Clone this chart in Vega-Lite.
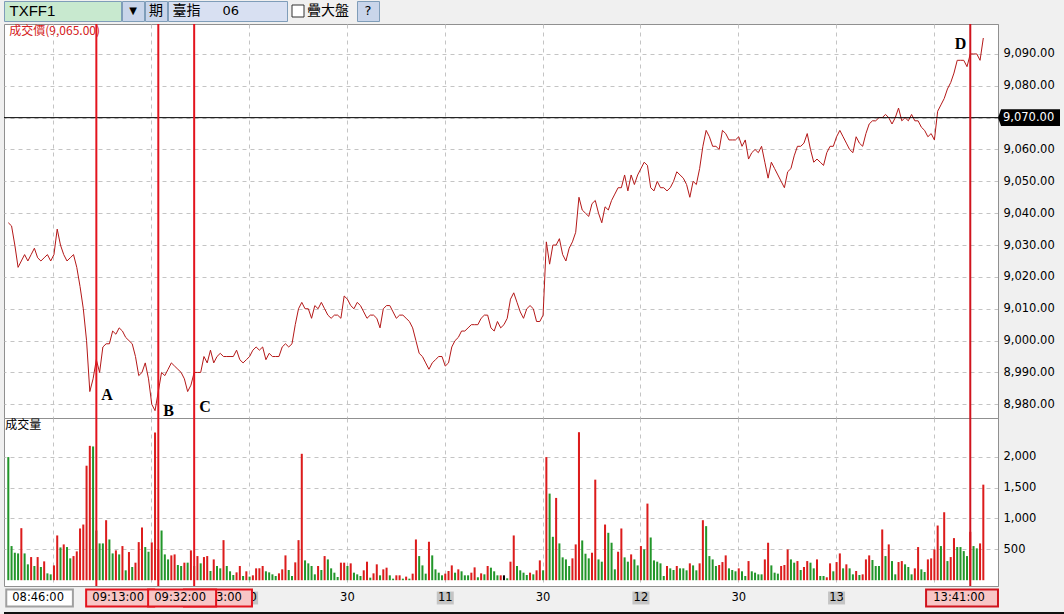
{
"$schema": "https://vega.github.io/schema/vega-lite/v6.json",
"background": "#f0f0f0",
"padding": {"left": 1, "top": 0, "right": 0, "bottom": 0},
"config": {
  "view": {"stroke": null},
  "axis": {"labelFont": "DejaVu Sans", "labelFontSize": 11.5, "labelColor": "#000000", "ticks": false, "gridDash": [4, 4], "gridColor": "#c4c4c4", "domainColor": "#909090", "title": null, "labelOverlap": false}
},
"datasets": {
  "m": [
{"t":"08:46","p":9037,"v":1995,"c":"d"},{"t":"08:47","p":9036,"v":553,"c":"d"},{"t":"08:48","p":9030,"v":445,"c":"d"},{"t":"08:49","p":9023,"v":434,"c":"d"},{"t":"08:50","p":9025,"v":843,"c":"u"},{"t":"08:51","p":9027,"v":434,"c":"d"},{"t":"08:52","p":9025,"v":257,"c":"d"},{"t":"08:53","p":9027,"v":375,"c":"u"},{"t":"08:54","p":9029,"v":230,"c":"d"},{"t":"08:55","p":9026,"v":375,"c":"u"},
{"t":"08:56","p":9025,"v":214,"c":"d"},{"t":"08:57","p":9026,"v":305,"c":"u"},{"t":"08:58","p":9027,"v":111,"c":"d"},{"t":"08:59","p":9025,"v":95,"c":"d"},{"t":"09:00","p":9027,"v":240,"c":"u"},{"t":"09:01","p":9035,"v":725,"c":"u"},{"t":"09:02","p":9030,"v":531,"c":"d"},{"t":"09:03","p":9027,"v":580,"c":"u"},{"t":"09:04","p":9025,"v":537,"c":"d"},{"t":"09:05","p":9026,"v":354,"c":"d"},
{"t":"09:06","p":9027,"v":391,"c":"u"},{"t":"09:07","p":9023,"v":467,"c":"u"},{"t":"09:08","p":9017,"v":838,"c":"u"},{"t":"09:09","p":9010,"v":902,"c":"u"},{"t":"09:10","p":9000,"v":1855,"c":"u"},{"t":"09:11","p":8984,"v":2177,"c":"u"},{"t":"09:12","p":8988,"v":2167,"c":"d"},{"t":"09:13","p":8994,"v":805,"c":"d"},{"t":"09:14","p":8990,"v":596,"c":"d"},{"t":"09:15","p":8998,"v":596,"c":"d"},
{"t":"09:16","p":8999,"v":972,"c":"u"},{"t":"09:17","p":8999,"v":660,"c":"d"},{"t":"09:18","p":9003,"v":434,"c":"d"},{"t":"09:19","p":9002,"v":483,"c":"u"},{"t":"09:20","p":9004,"v":418,"c":"d"},{"t":"09:21","p":9003,"v":553,"c":"u"},{"t":"09:22","p":9001,"v":160,"c":"d"},{"t":"09:23","p":9000,"v":456,"c":"u"},{"t":"09:24","p":8999,"v":214,"c":"d"},{"t":"09:25","p":8995,"v":284,"c":"u"},
{"t":"09:26","p":8989,"v":617,"c":"u"},{"t":"09:27","p":8990,"v":854,"c":"u"},{"t":"09:28","p":8993,"v":537,"c":"d"},{"t":"09:29","p":8988,"v":461,"c":"d"},{"t":"09:30","p":8980,"v":612,"c":"u"},{"t":"09:31","p":8978,"v":2393,"c":"u"},{"t":"09:32","p":8984,"v":500,"c":"u"},{"t":"09:33","p":8990,"v":805,"c":"d"},{"t":"09:34","p":8989,"v":418,"c":"d"},{"t":"09:35","p":8991,"v":337,"c":"d"},
{"t":"09:36","p":8993,"v":402,"c":"u"},{"t":"09:37","p":8992,"v":418,"c":"u"},{"t":"09:38","p":8991,"v":246,"c":"d"},{"t":"09:39","p":8990,"v":230,"c":"d"},{"t":"09:40","p":8988,"v":284,"c":"u"},{"t":"09:41","p":8984,"v":284,"c":"d"},{"t":"09:42","p":8986,"v":483,"c":"u"},{"t":"09:43","p":8990,"v":230,"c":"d"},{"t":"09:44","p":8990,"v":391,"c":"u"},{"t":"09:45","p":8990,"v":273,"c":"d"},
{"t":"09:46","p":8995,"v":375,"c":"u"},{"t":"09:47","p":8993,"v":391,"c":"u"},{"t":"09:48","p":8997,"v":149,"c":"d"},{"t":"09:49","p":8993,"v":337,"c":"u"},{"t":"09:50","p":8995,"v":230,"c":"d"},{"t":"09:51","p":8996,"v":192,"c":"d"},{"t":"09:52","p":8995,"v":649,"c":"u"},{"t":"09:53","p":8995,"v":230,"c":"d"},{"t":"09:54","p":8995,"v":144,"c":"d"},{"t":"09:55","p":8995,"v":84,"c":"d"},
{"t":"09:56","p":8997,"v":127,"c":"u"},{"t":"09:57","p":8994,"v":230,"c":"u"},{"t":"09:58","p":8993,"v":68,"c":"d"},{"t":"09:59","p":8994,"v":144,"c":"u"},{"t":"10:00","p":8995,"v":58,"c":"d"},{"t":"10:01","p":8997,"v":79,"c":"u"},{"t":"10:02","p":8998,"v":192,"c":"u"},{"t":"10:03","p":8997,"v":192,"c":"u"},{"t":"10:04","p":8998,"v":230,"c":"u"},{"t":"10:05","p":8994,"v":144,"c":"d"},
{"t":"10:06","p":8996,"v":127,"c":"d"},{"t":"10:07","p":8995,"v":95,"c":"d"},{"t":"10:08","p":8995,"v":68,"c":"d"},{"t":"10:09","p":8995,"v":111,"c":"u"},{"t":"10:10","p":8998,"v":176,"c":"u"},{"t":"10:11","p":8999,"v":402,"c":"u"},{"t":"10:12","p":8998,"v":165,"c":"d"},{"t":"10:13","p":8999,"v":68,"c":"d"},{"t":"10:14","p":9005,"v":289,"c":"u"},{"t":"10:15","p":9010,"v":649,"c":"u"},
{"t":"10:16","p":9012,"v":2048,"c":"u"},{"t":"10:17","p":9010,"v":321,"c":"d"},{"t":"10:18","p":9010,"v":273,"c":"d"},{"t":"10:19","p":9007,"v":230,"c":"d"},{"t":"10:20","p":9011,"v":95,"c":"d"},{"t":"10:21","p":9010,"v":230,"c":"u"},{"t":"10:22","p":9012,"v":165,"c":"d"},{"t":"10:23","p":9010,"v":391,"c":"u"},{"t":"10:24","p":9008,"v":337,"c":"d"},{"t":"10:25","p":9007,"v":192,"c":"d"},
{"t":"10:26","p":9008,"v":122,"c":"d"},{"t":"10:27","p":9008,"v":52,"c":"d"},{"t":"10:28","p":9007,"v":284,"c":"u"},{"t":"10:29","p":9014,"v":284,"c":"u"},{"t":"10:30","p":9013,"v":230,"c":"d"},{"t":"10:31","p":9011,"v":273,"c":"u"},{"t":"10:32","p":9010,"v":122,"c":"d"},{"t":"10:33","p":9012,"v":95,"c":"d"},{"t":"10:34","p":9011,"v":68,"c":"d"},{"t":"10:35","p":9009,"v":160,"c":"u"},
{"t":"10:36","p":9007,"v":300,"c":"u"},{"t":"10:37","p":9008,"v":41,"c":"d"},{"t":"10:38","p":9008,"v":111,"c":"u"},{"t":"10:39","p":9007,"v":257,"c":"u"},{"t":"10:40","p":9004,"v":79,"c":"d"},{"t":"10:41","p":9010,"v":176,"c":"u"},{"t":"10:42","p":9011,"v":203,"c":"u"},{"t":"10:43","p":9011,"v":79,"c":"d"},{"t":"10:44","p":9009,"v":25,"c":"d"},{"t":"10:45","p":9007,"v":79,"c":"u"},
{"t":"10:46","p":9008,"v":79,"c":"u"},{"t":"10:47","p":9008,"v":25,"c":"d"},{"t":"10:48","p":9007,"v":58,"c":"u"},{"t":"10:49","p":9006,"v":25,"c":"d"},{"t":"10:50","p":9004,"v":106,"c":"u"},{"t":"10:51","p":9000,"v":660,"c":"u"},{"t":"10:52","p":8996,"v":391,"c":"d"},{"t":"10:53","p":8995,"v":240,"c":"d"},{"t":"10:54","p":8993,"v":106,"c":"d"},{"t":"10:55","p":8991,"v":623,"c":"u"},
{"t":"10:56","p":8993,"v":402,"c":"d"},{"t":"10:57","p":8994,"v":176,"c":"d"},{"t":"10:58","p":8995,"v":122,"c":"d"},{"t":"10:59","p":8995,"v":79,"c":"d"},{"t":"11:00","p":8992,"v":106,"c":"u"},{"t":"11:01","p":8993,"v":149,"c":"u"},{"t":"11:02","p":8998,"v":240,"c":"u"},{"t":"11:03","p":9000,"v":122,"c":"d"},{"t":"11:04","p":9001,"v":176,"c":"u"},{"t":"11:05","p":9003,"v":144,"c":"d"},
{"t":"11:06","p":9003,"v":79,"c":"d"},{"t":"11:07","p":9004,"v":79,"c":"d"},{"t":"11:08","p":9005,"v":122,"c":"u"},{"t":"11:09","p":9005,"v":208,"c":"u"},{"t":"11:10","p":9005,"v":47,"c":"d"},{"t":"11:11","p":9007,"v":111,"c":"u"},{"t":"11:12","p":9008,"v":95,"c":"d"},{"t":"11:13","p":9008,"v":230,"c":"u"},{"t":"11:14","p":9004,"v":203,"c":"d"},{"t":"11:15","p":9003,"v":144,"c":"d"},
{"t":"11:16","p":9006,"v":79,"c":"d"},{"t":"11:17","p":9004,"v":79,"c":"u"},{"t":"11:18","p":9005,"v":79,"c":"f"},{"t":"11:19","p":9007,"v":31,"c":"d"},{"t":"11:20","p":9013,"v":300,"c":"u"},{"t":"11:21","p":9015,"v":725,"c":"u"},{"t":"11:22","p":9012,"v":230,"c":"d"},{"t":"11:23","p":9009,"v":160,"c":"d"},{"t":"11:24","p":9007,"v":122,"c":"d"},{"t":"11:25","p":9010,"v":84,"c":"d"},
{"t":"11:26","p":9011,"v":122,"c":"u"},{"t":"11:27","p":9010,"v":95,"c":"d"},{"t":"11:28","p":9006,"v":160,"c":"u"},{"t":"11:29","p":9006,"v":321,"c":"u"},{"t":"11:30","p":9008,"v":160,"c":"d"},{"t":"11:31","p":9031,"v":1995,"c":"u"},{"t":"11:32","p":9024,"v":1403,"c":"d"},{"t":"11:33","p":9030,"v":703,"c":"d"},{"t":"11:34","p":9030,"v":1333,"c":"u"},{"t":"11:35","p":9032,"v":596,"c":"d"},
{"t":"11:36","p":9027,"v":370,"c":"d"},{"t":"11:37","p":9025,"v":337,"c":"d"},{"t":"11:38","p":9029,"v":230,"c":"d"},{"t":"11:39","p":9031,"v":354,"c":"u"},{"t":"11:40","p":9034,"v":580,"c":"u"},{"t":"11:41","p":9045,"v":2398,"c":"u"},{"t":"11:42","p":9041,"v":644,"c":"d"},{"t":"11:43","p":9040,"v":429,"c":"d"},{"t":"11:44","p":9039,"v":354,"c":"d"},{"t":"11:45","p":9043,"v":445,"c":"u"},
{"t":"11:46","p":9044,"v":1629,"c":"u"},{"t":"11:47","p":9040,"v":337,"c":"d"},{"t":"11:48","p":9037,"v":300,"c":"d"},{"t":"11:49","p":9042,"v":902,"c":"u"},{"t":"11:50","p":9041,"v":768,"c":"d"},{"t":"11:51","p":9044,"v":607,"c":"d"},{"t":"11:52","p":9046,"v":176,"c":"d"},{"t":"11:53","p":9048,"v":461,"c":"u"},{"t":"11:54","p":9048,"v":838,"c":"u"},{"t":"11:55","p":9052,"v":370,"c":"d"},
{"t":"11:56","p":9047,"v":300,"c":"d"},{"t":"11:57","p":9052,"v":418,"c":"u"},{"t":"11:58","p":9049,"v":337,"c":"d"},{"t":"11:59","p":9052,"v":240,"c":"d"},{"t":"12:00","p":9054,"v":553,"c":"u"},{"t":"12:01","p":9056,"v":499,"c":"d"},{"t":"12:02","p":9055,"v":1241,"c":"u"},{"t":"12:03","p":9048,"v":692,"c":"d"},{"t":"12:04","p":9047,"v":321,"c":"d"},{"t":"12:05","p":9050,"v":300,"c":"d"},
{"t":"12:06","p":9048,"v":273,"c":"d"},{"t":"12:07","p":9048,"v":68,"c":"d"},{"t":"12:08","p":9047,"v":230,"c":"u"},{"t":"12:09","p":9048,"v":192,"c":"d"},{"t":"12:10","p":9050,"v":165,"c":"d"},{"t":"12:11","p":9053,"v":230,"c":"u"},{"t":"12:12","p":9052,"v":192,"c":"d"},{"t":"12:13","p":9051,"v":192,"c":"d"},{"t":"12:14","p":9049,"v":160,"c":"d"},{"t":"12:15","p":9045,"v":273,"c":"u"},
{"t":"12:16","p":9050,"v":240,"c":"d"},{"t":"12:17","p":9049,"v":160,"c":"d"},{"t":"12:18","p":9054,"v":273,"c":"u"},{"t":"12:19","p":9061,"v":972,"c":"u"},{"t":"12:20","p":9066,"v":876,"c":"d"},{"t":"12:21","p":9064,"v":391,"c":"d"},{"t":"12:22","p":9061,"v":337,"c":"d"},{"t":"12:23","p":9061,"v":230,"c":"d"},{"t":"12:24","p":9060,"v":246,"c":"u"},{"t":"12:25","p":9066,"v":294,"c":"u"},
{"t":"12:26","p":9065,"v":402,"c":"u"},{"t":"12:27","p":9063,"v":192,"c":"d"},{"t":"12:28","p":9063,"v":165,"c":"d"},{"t":"12:29","p":9063,"v":144,"c":"d"},{"t":"12:30","p":9064,"v":192,"c":"u"},{"t":"12:31","p":9061,"v":144,"c":"d"},{"t":"12:32","p":9063,"v":68,"c":"d"},{"t":"12:33","p":9057,"v":310,"c":"u"},{"t":"12:34","p":9059,"v":144,"c":"d"},{"t":"12:35","p":9060,"v":122,"c":"d"},
{"t":"12:36","p":9059,"v":95,"c":"d"},{"t":"12:37","p":9061,"v":95,"c":"d"},{"t":"12:38","p":9056,"v":337,"c":"u"},{"t":"12:39","p":9051,"v":607,"c":"u"},{"t":"12:40","p":9056,"v":240,"c":"d"},{"t":"12:41","p":9054,"v":122,"c":"d"},{"t":"12:42","p":9052,"v":106,"c":"d"},{"t":"12:43","p":9050,"v":230,"c":"u"},{"t":"12:44","p":9048,"v":246,"c":"u"},{"t":"12:45","p":9053,"v":499,"c":"u"},
{"t":"12:46","p":9054,"v":337,"c":"d"},{"t":"12:47","p":9058,"v":284,"c":"d"},{"t":"12:48","p":9061,"v":310,"c":"u"},{"t":"12:49","p":9061,"v":165,"c":"d"},{"t":"12:50","p":9062,"v":214,"c":"u"},{"t":"12:51","p":9065,"v":310,"c":"u"},{"t":"12:52","p":9060,"v":284,"c":"d"},{"t":"12:53","p":9056,"v":192,"c":"d"},{"t":"12:54","p":9057,"v":337,"c":"u"},{"t":"12:55","p":9056,"v":68,"c":"d"},
{"t":"12:56","p":9055,"v":68,"c":"d"},{"t":"12:57","p":9059,"v":47,"c":"u"},{"t":"12:58","p":9061,"v":273,"c":"u"},{"t":"12:59","p":9061,"v":144,"c":"d"},{"t":"13:00","p":9064,"v":294,"c":"u"},{"t":"13:01","p":9066,"v":434,"c":"u"},{"t":"13:02","p":9064,"v":192,"c":"d"},{"t":"13:03","p":9062,"v":257,"c":"u"},{"t":"13:04","p":9060,"v":192,"c":"d"},{"t":"13:05","p":9059,"v":95,"c":"d"},
{"t":"13:06","p":9064,"v":149,"c":"u"},{"t":"13:07","p":9062,"v":84,"c":"d"},{"t":"13:08","p":9061,"v":95,"c":"u"},{"t":"13:09","p":9065,"v":337,"c":"u"},{"t":"13:10","p":9068,"v":402,"c":"u"},{"t":"13:11","p":9069,"v":327,"c":"d"},{"t":"13:12","p":9069,"v":230,"c":"d"},{"t":"13:13","p":9070,"v":230,"c":"d"},{"t":"13:14","p":9070,"v":822,"c":"u"},{"t":"13:15","p":9071,"v":391,"c":"d"},
{"t":"13:16","p":9070,"v":580,"c":"u"},{"t":"13:17","p":9068,"v":310,"c":"d"},{"t":"13:18","p":9070,"v":95,"c":"d"},{"t":"13:19","p":9073,"v":294,"c":"u"},{"t":"13:20","p":9069,"v":310,"c":"u"},{"t":"13:21","p":9070,"v":257,"c":"d"},{"t":"13:22","p":9069,"v":214,"c":"d"},{"t":"13:23","p":9071,"v":95,"c":"d"},{"t":"13:24","p":9069,"v":192,"c":"u"},{"t":"13:25","p":9069,"v":537,"c":"u"},
{"t":"13:26","p":9067,"v":176,"c":"d"},{"t":"13:27","p":9066,"v":133,"c":"d"},{"t":"13:28","p":9064,"v":337,"c":"u"},{"t":"13:29","p":9065,"v":354,"c":"u"},{"t":"13:30","p":9063,"v":499,"c":"u"},{"t":"13:31","p":9072,"v":886,"c":"u"},{"t":"13:32","p":9074,"v":553,"c":"d"},{"t":"13:33","p":9076,"v":1101,"c":"u"},{"t":"13:34","p":9079,"v":310,"c":"d"},{"t":"13:35","p":9081,"v":375,"c":"u"},
{"t":"13:36","p":9084,"v":682,"c":"u"},{"t":"13:37","p":9088,"v":537,"c":"d"},{"t":"13:38","p":9088,"v":537,"c":"d"},{"t":"13:39","p":9088,"v":472,"c":"d"},{"t":"13:40","p":9086,"v":391,"c":"d"},{"t":"13:41","p":9090,"v":784,"c":"u"},{"t":"13:42","p":9090,"v":553,"c":"d"},{"t":"13:43","p":9090,"v":516,"c":"d"},{"t":"13:44","p":9088,"v":596,"c":"u"},{"t":"13:45","p":9095,"v":1548,"c":"u"}
  ],
  "tags": [
    {"lab": "S", "t": "08:46", "tl": "08:46:00"},
    {"lab": "A", "t": "09:13", "p": 8983, "tl": "09:13:00"},
    {"lab": "C", "t": "09:43", "p": 8979, "tl": "09:43:00"},
    {"lab": "B", "t": "09:32", "p": 8978, "tl": "09:32:00"},
    {"lab": "D", "t": "13:41", "p": 9093, "tl": "13:41:00"}
  ],
  "hrs": [
    {"t": "10:00", "h": "10"}, {"t": "11:00", "h": "11"}, {"t": "12:00", "h": "12"}, {"t": "13:00", "h": "13"}
  ],
  "lvl": [{"lv": 9070}],
  "heads": [{"t": "08:46", "price": "成交價(9,065.00)", "vol": "成交量"}]
},
"spacing": 0,
"vconcat": [
  {
    "hconcat": [
      {"width": 117, "height": 20, "view": {"fill": "#c8e9cf", "stroke": "#7f9db9"}, "data": {"values": [{"s": "TXFF1"}]},
       "mark": {"type": "text", "align": "left", "dx": -53, "font": "Liberation Sans", "fontSize": 15, "color": "#000000"},
       "encoding": {"text": {"field": "s"}}},
      {"width": 22, "height": 20, "view": {"fill": "#c9d5ea", "stroke": "#7f9db9"}, "data": {"values": [{"s": "▼"}]},
       "mark": {"type": "text", "font": "DejaVu Sans", "fontSize": 10, "color": "#000000"},
       "encoding": {"text": {"field": "s"}}},
      {"width": 22, "height": 20, "view": {"fill": "#c9d5ea", "stroke": "#7f9db9"}, "data": {"values": [{"s": "期"}]},
       "mark": {"type": "text", "font": "Noto Sans CJK TC", "fontSize": 14, "color": "#000000"},
       "encoding": {"text": {"field": "s"}}},
      {"width": 119, "height": 20, "view": {"fill": "#d8e0f2", "stroke": "#7f9db9"}, "data": {"values": [{"a": "臺指", "b": "06"}]},
       "layer": [
         {"mark": {"type": "text", "align": "left", "dx": -55, "font": "Noto Sans CJK TC", "fontSize": 14, "color": "#000000"}, "encoding": {"text": {"field": "a"}}},
         {"mark": {"type": "text", "align": "left", "dx": -5, "font": "DejaVu Sans", "fontSize": 13, "color": "#000000"}, "encoding": {"text": {"field": "b"}}}
       ]},
      {"width": 68, "height": 20, "data": {"values": [{"s": "疊大盤"}]},
       "layer": [
         {"mark": {"type": "square", "size": 144, "filled": true, "fill": "#ffffff", "stroke": "#333333", "strokeWidth": 1, "opacity": 1, "xOffset": -24}, "encoding": {}},
         {"mark": {"type": "text", "align": "left", "dx": -15, "font": "Noto Sans CJK TC", "fontSize": 14, "color": "#000000"}, "encoding": {"text": {"field": "s"}}}
       ]},
      {"width": 22, "height": 20, "view": {"fill": "#c9d5ea", "stroke": "#7f9db9"}, "data": {"values": [{"s": "?"}]},
       "mark": {"type": "text", "font": "DejaVu Sans", "fontSize": 13, "color": "#000000"},
       "encoding": {"text": {"field": "s"}}}
    ],
    "spacing": 1,
    "bounds": "flush"
  },
  {
    "vconcat": [
      {
        "width": 994, "height": 394,
        "view": {"fill": "#ffffff", "stroke": "#909090"},
        "layer": [
          {"data": {"name": "m"},
           "mark": {"type": "line", "color": "#b41818", "strokeWidth": 1},
           "encoding": {
             "x": {"field": "t", "type": "ordinal",
                   "scale": {"type": "band", "domain": {"unionWith": ["13:46","13:47","13:48","13:49"]}, "paddingInner": 0.38, "paddingOuter": 0.6, "align": 0.84, "round": false},
                   "axis": {"values": ["09:00","09:30","10:00","10:30","11:00","11:30","12:00","12:30","13:00","13:30"], "labels": false, "ticks": false, "domain": false, "grid": true, "bandPosition": 0.5}},
             "y": {"field": "p", "type": "quantitative",
                   "scale": {"domain": [8975.7, 9099.4], "nice": false, "zero": false},
                   "axis": {"orient": "right", "tickCount": 13, "format": ",.2f", "labelPadding": 5, "grid": true, "domain": true, "labelOverlap": false, "labelSeparation": 0, "labelFlush": false}}
           }},
          {"data": {"name": "heads"},
           "mark": {"type": "text", "align": "left", "baseline": "top", "dx": 1, "dy": 2, "font": "Noto Sans CJK TC", "fontSize": 12, "color": "#d42020"},
           "encoding": {"x": {"field": "t", "type": "ordinal"}, "y": {"value": 0}, "text": {"field": "price"}}},
          {"data": {"name": "lvl"},
           "mark": {"type": "rule", "color": "#000000", "strokeWidth": 1},
           "encoding": {"y": {"field": "lv", "type": "quantitative"}}},
          {"data": {"name": "tags"}, "transform": [{"filter": "datum.lab != 'S'"}],
           "mark": {"type": "rule", "strokeWidth": 2},
           "encoding": {
             "x": {"field": "t", "type": "ordinal"},
             "stroke": {"field": "lab", "type": "nominal", "scale": {"domain": ["A","B","C","D","S"], "range": ["#e3141e","#e3141e","#e3141e","#d0141e","#a0a0a0"]}, "legend": null}
           }},
          {"data": {"name": "tags"}, "transform": [{"filter": "datum.lab != 'S'"}],
           "mark": {"type": "text", "font": "Liberation Serif", "fontSize": 16, "fontWeight": "bold", "color": "#000000",
                    "align": {"expr": "datum.lab == 'D' ? 'right' : 'left'"}, "dx": {"expr": "datum.lab == 'D' ? -4 : 5"}},
           "encoding": {
             "x": {"field": "t", "type": "ordinal"},
             "y": {"field": "p", "type": "quantitative"},
             "text": {"field": "lab"}
           }},
          {"data": {"name": "lvl"},
           "mark": {"type": "point", "shape": "M-1,0L-0.9,-0.27L1,-0.27L1,0.27L-0.9,0.27Z", "size": 3844, "filled": true, "color": "#000000", "opacity": 1, "xOffset": 31},
           "encoding": {"x": {"value": "width"}, "y": {"field": "lv", "type": "quantitative"}}},
          {"data": {"name": "lvl"},
           "mark": {"type": "text", "color": "#ffffff", "align": "left", "dx": 5, "font": "DejaVu Sans", "fontSize": 11.5},
           "encoding": {"x": {"value": "width"}, "y": {"field": "lv", "type": "quantitative"}, "text": {"field": "lv", "type": "quantitative", "format": ",.2f"}}}
        ]
      },
      {
        "width": 994, "height": 168,
        "view": {"fill": "#ffffff", "stroke": "#909090"},
        "layer": [
          {"data": {"name": "m"},
           "mark": {"type": "bar"},
           "encoding": {
             "x": {"field": "t", "type": "ordinal",
                   "scale": {"type": "band", "domain": {"unionWith": ["13:46","13:47","13:48","13:49"]}, "paddingInner": 0.38, "paddingOuter": 0.6, "align": 0.84, "round": false},
                   "axis": {"values": ["09:00","09:30","10:00","10:30","11:00","11:30","12:00","12:30","13:00","13:30"], "labelExpr": "slice(datum.value, 3) == '30' ? '30' : ''", "labelPadding": 5, "ticks": false, "domain": false, "grid": true, "bandPosition": 0.5, "labelAngle": 0}},
             "y": {"field": "v", "type": "quantitative",
                   "scale": {"domain": [-94, 2628], "nice": false, "zero": false},
                   "axis": {"orient": "right", "values": [500, 1000, 1500, 2000], "format": ",d", "labelPadding": 5, "grid": true, "domain": true, "labelOverlap": false}},
             "y2": {"value": "height"},
             "color": {"field": "c", "type": "nominal", "scale": {"domain": ["u","d","f"], "range": ["#dc1c1c","#22962a","#000000"]}, "legend": null}
           }},
          {"data": {"name": "heads"},
           "mark": {"type": "text", "align": "left", "baseline": "top", "dx": -3, "dy": 2, "font": "Noto Sans CJK TC", "fontSize": 12, "color": "#000000"},
           "encoding": {"x": {"field": "t", "type": "ordinal"}, "y": {"value": 0}, "text": {"field": "vol"}}},
          {"data": {"name": "tags"}, "transform": [{"filter": "datum.lab != 'S'"}],
           "mark": {"type": "rule", "strokeWidth": 2},
           "encoding": {
             "x": {"field": "t", "type": "ordinal"},
             "stroke": {"field": "lab", "type": "nominal", "scale": {"domain": ["A","B","C","D","S"], "range": ["#e3141e","#e3141e","#e3141e","#d0141e","#a0a0a0"]}, "legend": null}
           }},
          {"data": {"name": "hrs"},
           "mark": {"type": "point", "shape": "M-1,-0.76L1,-0.76L1,0.76L-1,0.76Z", "size": 289, "filled": true, "color": "#c4c4c4", "opacity": 1, "yOffset": 12},
           "encoding": {"x": {"field": "t", "type": "ordinal"}, "y": {"value": "height"}}},
          {"data": {"name": "hrs"},
           "mark": {"type": "text", "dy": 12, "font": "DejaVu Sans", "fontSize": 11.5, "color": "#000000"},
           "encoding": {"x": {"field": "t", "type": "ordinal"}, "y": {"value": "height"}, "text": {"field": "h"}}},
          {"data": {"name": "tags"}, "transform": [{"filter": "datum.lab == 'S' || datum.lab == 'A' || datum.lab == 'C'"}],
           "mark": {"type": "point", "size": 4624, "filled": true, "opacity": 1, "fillOpacity": 1, "strokeWidth": 2, "yOffset": 12},
           "encoding": {
             "x": {"field": "t", "type": "ordinal"}, "y": {"value": "height"},
             "shape": {"field": "lab", "type": "nominal", "scale": {"domain": ["A","B","C","D","S"], "range": ["M-0.3,-0.25L1.7,-0.25L1.7,0.25L-0.3,0.25Z","M-0.3,-0.25L1.7,-0.25L1.7,0.25L-0.3,0.25Z","M-0.3,-0.25L1.7,-0.25L1.7,0.25L-0.3,0.25Z","M-1.3,-0.25L0.815,-0.25L0.815,0.25L-1.3,0.25Z","M-0.06,-0.25L1.9,-0.25L1.9,0.25L-0.06,0.25Z"]}, "legend": null},
             "fill": {"field": "lab", "type": "nominal", "scale": {"domain": ["A","B","C","D","S"], "range": ["#f8c6c6","#f8c6c6","#f8c6c6","#f8c6c6","#ffffff"]}, "legend": null},
             "stroke": {"field": "lab", "type": "nominal", "scale": {"domain": ["A","B","C","D","S"], "range": ["#e3141e","#e3141e","#e3141e","#d0141e","#a0a0a0"]}, "legend": null}
           }},
          {"data": {"name": "tags"}, "transform": [{"filter": "datum.lab == 'S' || datum.lab == 'A' || datum.lab == 'C'"}],
           "mark": {"type": "text", "dy": 12, "align": "left", "dx": {"expr": "datum.lab == 'S' ? 4 : -4"}, "font": "DejaVu Sans", "fontSize": 11.5, "color": "#000000"},
           "encoding": {"x": {"field": "t", "type": "ordinal"}, "y": {"value": "height"}, "text": {"field": "tl"}}},
          {"data": {"name": "tags"}, "transform": [{"filter": "datum.lab == 'B' || datum.lab == 'D'"}],
           "mark": {"type": "point", "size": 4624, "filled": true, "opacity": 1, "fillOpacity": 1, "strokeWidth": 2, "yOffset": 12},
           "encoding": {
             "x": {"field": "t", "type": "ordinal"}, "y": {"value": "height"},
             "shape": {"field": "lab", "type": "nominal", "scale": {"domain": ["A","B","C","D","S"], "range": ["M-0.3,-0.25L1.7,-0.25L1.7,0.25L-0.3,0.25Z","M-0.3,-0.25L1.7,-0.25L1.7,0.25L-0.3,0.25Z","M-0.3,-0.25L1.7,-0.25L1.7,0.25L-0.3,0.25Z","M-1.3,-0.25L0.815,-0.25L0.815,0.25L-1.3,0.25Z","M-0.06,-0.25L1.9,-0.25L1.9,0.25L-0.06,0.25Z"]}, "legend": null},
             "fill": {"field": "lab", "type": "nominal", "scale": {"domain": ["A","B","C","D","S"], "range": ["#f8c6c6","#f8c6c6","#f8c6c6","#f8c6c6","#ffffff"]}, "legend": null},
             "stroke": {"field": "lab", "type": "nominal", "scale": {"domain": ["A","B","C","D","S"], "range": ["#e3141e","#e3141e","#e3141e","#d0141e","#a0a0a0"]}, "legend": null}
           }},
          {"data": {"name": "tags"}, "transform": [{"filter": "datum.lab == 'B' || datum.lab == 'D'"}],
           "mark": {"type": "text", "dy": 12, "align": "left", "dx": {"expr": "datum.lab == 'D' ? -37 : -4"}, "font": "DejaVu Sans", "fontSize": 11.5, "color": "#000000"},
           "encoding": {"x": {"field": "t", "type": "ordinal"}, "y": {"value": "height"}, "text": {"field": "tl"}}}
        ]
      }
    ],
    "spacing": 0,
    "bounds": "flush",
    "resolve": {"scale": {"x": "shared"}}
  },
  {"width": 1063, "height": 10, "view": {"fill": "#111111"}, "data": {"values": [{}]}, "mark": {"type": "rule", "opacity": 0}, "encoding": {}}
]
}
